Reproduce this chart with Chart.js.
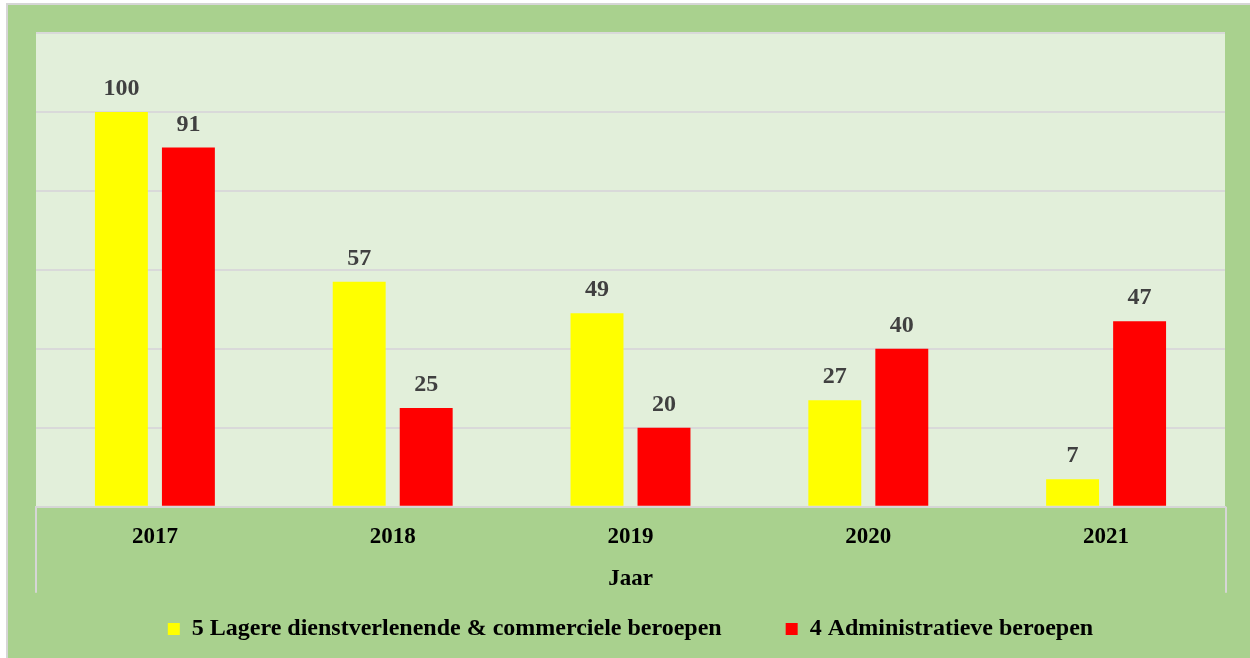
<!DOCTYPE html>
<html>
<head>
<meta charset="utf-8">
<script src="https://cdn.jsdelivr.net/npm/chart.js@4"></script>
<style>
  body { margin: 0; background: #ffffff; }
  #wrap {
    position: absolute; left: 6px; top: 3px;
    width: 1242px; height: 653px;
    border-left: 2px solid #d6d6d6; border-top: 2px solid #d6d6d6;
    background: #a9d18e;
  }
  canvas { display: block; }
</style>
</head>
<body>
<div id="wrap"><canvas id="chart" width="1242" height="653"></canvas></div>
<script>
// data
const years = ["2017", "2018", "2019", "2020", "2021"];
const lagere = [100, 57, 49, 27, 7];
const administratief = [91, 25, 20, 40, 47];
const seriesNames = ["5 Lagere dienstverlenende & commerciele beroepen", "4 Administratieve beroepen"];

const serif = "'Liberation Serif', 'Times New Roman', serif";

// light green plot area + end lines under the x axis
const plotBack = {
  id: "plotBack",
  beforeDraw(chart) {
    const { ctx, chartArea: a } = chart;
    ctx.save();
    ctx.fillStyle = "#e2efda";
    ctx.fillRect(a.left, a.top, a.right - a.left, a.bottom - a.top);
    ctx.strokeStyle = "#d6d6d6";
    ctx.lineWidth = 2;
    ctx.beginPath();
    ctx.moveTo(a.left, a.bottom);
    ctx.lineTo(a.left, a.bottom + 86);
    ctx.moveTo(a.right + 1, a.bottom);
    ctx.lineTo(a.right + 1, a.bottom + 86);
    ctx.stroke();
    ctx.restore();
  }
};

// value labels above the bars
const barLabels = {
  id: "barLabels",
  afterDatasetsDraw(chart) {
    const { ctx } = chart;
    ctx.save();
    ctx.font = "bold 24px " + serif;
    ctx.fillStyle = "#404040";
    ctx.textAlign = "center";
    ctx.textBaseline = "alphabetic";
    chart.data.datasets.forEach((ds, i) => {
      chart.getDatasetMeta(i).data.forEach((bar, j) => {
        ctx.fillText(ds.data[j], bar.x, bar.y - 17);
      });
    });
    ctx.restore();
  }
};

new Chart(document.getElementById("chart"), {
  type: "bar",
  data: {
    labels: years,
    datasets: [
      { label: seriesNames[0], data: lagere, backgroundColor: "#ffff00", borderWidth: 0 },
      { label: seriesNames[1], data: administratief, backgroundColor: "#ff0000", borderWidth: 0 }
    ]
  },
  options: {
    responsive: false,
    animation: false,
    devicePixelRatio: 1,
    layout: { padding: { left: 28, right: 25, top: 28, bottom: 7 } },
    datasets: { bar: { categoryPercentage: 0.5635, barPercentage: 0.79 } },
    scales: {
      x: {
        grid: { display: false, drawTicks: false },
        border: { display: true, color: "#d6d6d6", width: 2 },
        ticks: { color: "#000", padding: 16, font: { family: serif, size: 23, weight: "bold" } },
        title: {
          display: true, text: "Jaar", color: "#000",
          font: { family: serif, size: 23, weight: "bold" },
          padding: { top: -1, bottom: -40 }
        }
      },
      y: {
        min: 0, max: 120,
        ticks: { display: false, stepSize: 20 },
        grid: { color: "#d9d9d9", lineWidth: 2, drawTicks: false },
        border: { display: false },
        afterFit(scale) { scale.width = 0; }
      }
    },
    plugins: {
      legend: {
        position: "bottom",
        labels: {
          color: "#000",
          boxWidth: 12, boxHeight: 12,
          padding: 64,
          font: { family: serif, size: 24, weight: "bold" }
        }
      },
      tooltip: { enabled: false }
    }
  },
  plugins: [plotBack, barLabels]
});
</script>
</body>
</html>
